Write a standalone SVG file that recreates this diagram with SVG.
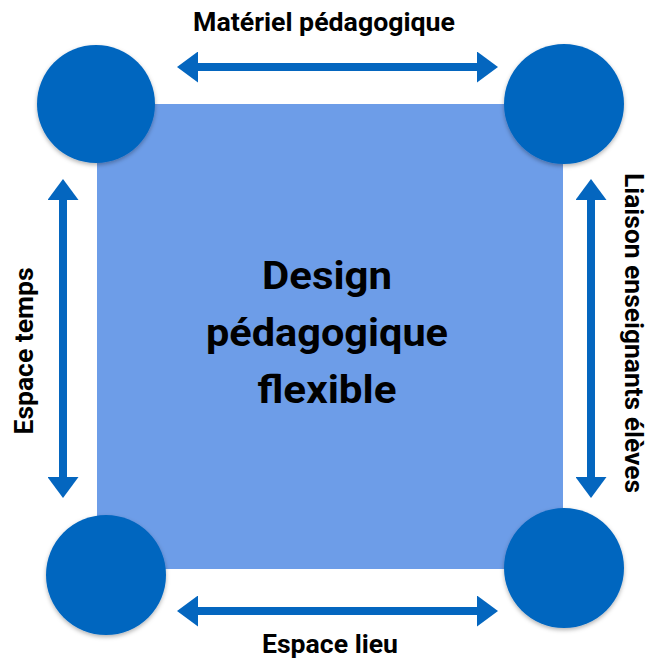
<svg xmlns="http://www.w3.org/2000/svg" width="650" height="659" viewBox="0 0 650 659">
<style>
.lbl{font-family:Roboto,"Liberation Sans",sans-serif;font-weight:bold;font-size:25.5px;fill:#000;text-anchor:middle}
.ttl{font-family:Roboto,"Liberation Sans",sans-serif;font-weight:bold;font-size:39.5px;fill:#000;text-anchor:middle}
.node{fill:#0466BF;filter:url(#sh)}
.conn{stroke:#0466BF;stroke-width:8;fill:none;marker-start:url(#ah);marker-end:url(#ah)}
</style>
<defs>
<marker id="ah" markerUnits="userSpaceOnUse" markerWidth="21" markerHeight="31" refX="1" refY="15.5" orient="auto-start-reverse" viewBox="0 0 21 31">
<path d="M0,0 L21,15.5 L0,31 z" fill="#0466BF"/>
</marker>
<filter id="sh" x="-20%" y="-20%" width="140%" height="140%">
<feDropShadow dx="0" dy="2" stdDeviation="2" flood-color="#000" flood-opacity="0.3"/>
</filter>
</defs>
<g id="center">
<rect x="97" y="104" width="466" height="465" fill="#6D9DE8"/>
<text class="ttl" x="327" y="289" textLength="130" lengthAdjust="spacingAndGlyphs">Design</text>
<text class="ttl" x="327" y="346" textLength="242" lengthAdjust="spacingAndGlyphs">pédagogique</text>
<text class="ttl" x="327" y="403" textLength="139" lengthAdjust="spacingAndGlyphs">flexible</text>
</g>
<g id="connectors">
<line class="conn" x1="197" y1="67" x2="478" y2="67"/>
<line class="conn" x1="197" y1="611" x2="478" y2="611"/>
<line class="conn" x1="63" y1="199" x2="63" y2="478"/>
<line class="conn" x1="591" y1="199" x2="591" y2="478"/>
</g>
<g id="node-tl"><circle class="node" cx="96" cy="104" r="59"/></g>
<g id="node-tr"><circle class="node" cx="564" cy="104" r="60"/></g>
<g id="node-bl"><circle class="node" cx="106" cy="575" r="60"/></g>
<g id="node-br"><circle class="node" cx="564" cy="568" r="60"/></g>
<g id="labels">
<text class="lbl" x="324" y="31" textLength="262" lengthAdjust="spacingAndGlyphs">Matériel pédagogique</text>
<text class="lbl" x="330" y="653" textLength="136" lengthAdjust="spacingAndGlyphs">Espace lieu</text>
<text class="lbl" transform="translate(33,351) rotate(-90)" textLength="167" lengthAdjust="spacingAndGlyphs">Espace temps</text>
<text class="lbl" transform="translate(625,333) rotate(90)" textLength="320" lengthAdjust="spacingAndGlyphs">Liaison enseignants élèves</text>
</g>
</svg>
